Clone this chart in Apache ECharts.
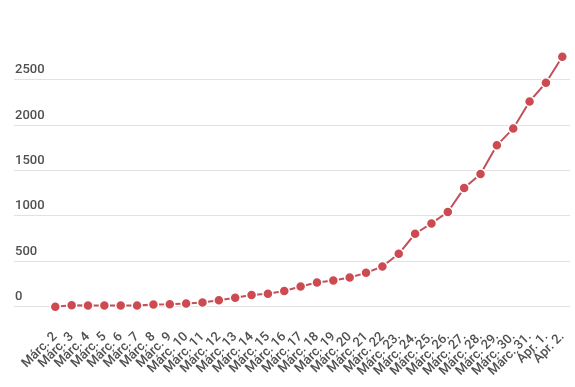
<!DOCTYPE html>
<html>
<head>
<meta charset="utf-8">
<script src="https://cdn.jsdelivr.net/npm/echarts@6/dist/echarts.min.js"></script>
<style>
html,body{margin:0;padding:0;background:#fff;}
#chart{width:575px;height:387px;}
</style>
</head>
<body>
<div id="chart"></div>
<script>
const categories = [
  "Márc. 2","Márc. 3","Márc. 4","Márc. 5","Márc. 6","Márc. 7","Márc. 8","Márc. 9",
  "Márc. 10","Márc. 11","Márc. 12","Márc. 13","Márc. 14","Márc. 15","Márc. 16","Márc. 17",
  "Márc. 18","Márc. 19","Márc. 20","Márc. 21","Márc. 22","Márc. 23.","Márc. 24.","Márc. 25.",
  "Márc. 26.","Márc. 27.","Márc. 28.","Márc. 29.","Márc. 30.","Márc. 31.","Ápr. 1.","Ápr. 2."
];
const values = [
  0, 15, 12, 12, 12, 14, 25, 28,
  35, 47, 70, 99, 129, 143, 173, 222,
  266, 288, 321, 372, 442, 582, 802, 916,
  1041, 1304, 1458, 1774, 1960, 2257, 2462, 2747
];
const yTicks = [0, 500, 1000, 1500, 2000, 2500];

const chart = echarts.init(document.getElementById('chart'), null, {renderer: 'canvas'});
const axisTop = 79.3, axisBottom = 80.3;
const pxPerUnit = (387 - axisBottom - axisTop) / yTicks[yTicks.length - 1];
const dataMax = 3000;
const dataTop = (387 - axisBottom) - dataMax * pxPerUnit;

chart.setOption({
  backgroundColor: '#ffffff',
  animation: false,
  grid: [
    {left: 14, right: 5, top: axisTop, bottom: axisBottom},
    {left: 55.3, right: 12.7, top: dataTop, bottom: axisBottom}
  ],
  xAxis: [
    {gridIndex: 0, type: 'value', min: 0, max: 1, show: false},
    {
      gridIndex: 1, type: 'category', data: categories, boundaryGap: false,
      axisLine: {show: false}, axisTick: {show: false}, splitLine: {show: false},
      axisLabel: {
        interval: 0, rotate: 45, margin: 28, color: '#505050',
        fontFamily: 'Roboto', fontSize: 13, fontWeight: 500
      }
    }
  ],
  yAxis: [
    {
      gridIndex: 0, type: 'value', min: yTicks[0], max: yTicks[yTicks.length - 1], interval: 500,
      axisLine: {show: false}, axisTick: {show: false},
      splitLine: {show: true, lineStyle: {color: '#e2e2e2', width: 1}},
      axisLabel: {
        inside: true, margin: 1, align: 'left', verticalAlign: 'bottom',
        padding: [0, 0, 3, 0],
        formatter: function (v) { return String(v); },
        color: '#505050', fontFamily: 'Roboto', fontSize: 13, fontWeight: 500
      }
    },
    {gridIndex: 1, type: 'value', min: 0, max: dataMax, show: false, splitLine: {show: false}}
  ],
  series: [{
    type: 'line', xAxisIndex: 1, yAxisIndex: 1, data: values,
    symbol: 'circle', symbolSize: 10,
    itemStyle: {color: '#cc4a50', borderColor: '#ffffff', borderWidth: 1.5},
    lineStyle: {color: '#bf525a', width: 2}
  }]
});
</script>
</body>
</html>
